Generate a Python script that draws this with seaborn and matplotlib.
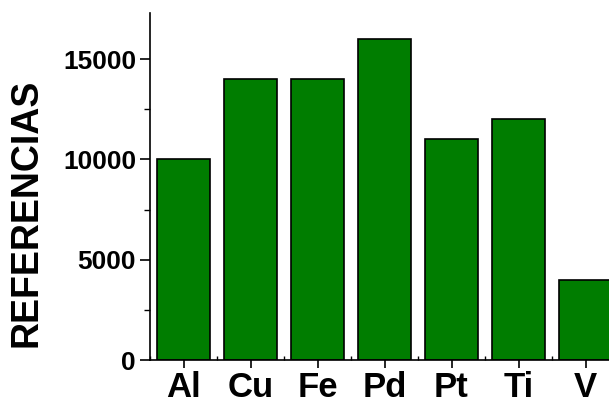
import matplotlib
matplotlib.use("Agg")
import matplotlib.pyplot as plt
import pandas as pd
import seaborn as sns
from matplotlib.ticker import MultipleLocator

elements = ["Al", "Cu", "Fe", "Pd", "Pt", "Ti", "V"]
referencias = [10000, 14000, 14000, 16000, 11000, 12000, 4000]

df = pd.DataFrame({"element": elements, "refs": referencias})

sns.set_theme(style="ticks")
plt.rcParams["font.family"] = ["Liberation Sans", "DejaVu Sans"]
plt.rcParams["font.weight"] = "bold"
plt.rcParams["text.color"] = "black"
plt.rcParams["axes.labelcolor"] = "black"
plt.rcParams["xtick.color"] = "black"
plt.rcParams["ytick.color"] = "black"

fig = plt.figure(figsize=(6.09, 4.01), dpi=100)
ax = fig.add_axes([150 / 609, 41 / 401, 469 / 609, 347 / 401])

sns.barplot(data=df, x="element", y="refs", color="#007D00", saturation=1,
            width=0.8, edgecolor="black", linewidth=1.2, ax=ax)

ax.set_xlim(-0.5, 6.5)
ax.set_ylim(0, 17300)
ax.yaxis.set_major_locator(MultipleLocator(5000))
ax.yaxis.set_minor_locator(MultipleLocator(2500))
ax.xaxis.set_minor_locator(MultipleLocator(1, offset=0.5))
ax.tick_params(axis="y", which="major", direction="out", length=7, width=1.2,
               labelsize=19, pad=3)
ax.tick_params(axis="y", which="minor", direction="out", length=4, width=1.0)
ax.tick_params(axis="x", which="major", direction="out", length=6, width=1.2,
               labelsize=25, pad=2)
ax.tick_params(axis="x", which="minor", direction="in", length=3, width=1.0)
for lbl in ax.get_xticklabels() + ax.get_yticklabels():
    lbl.set_fontweight("bold")

ax.set_xlabel("")
ax.set_ylabel("REFERENCIAS", fontsize=27, fontweight="bold")
ax.yaxis.set_label_coords(-0.224, 0.425)

for side in ["top", "right"]:
    ax.spines[side].set_visible(False)
for side in ["left", "bottom"]:
    ax.spines[side].set_linewidth(1.2)
    ax.spines[side].set_color("black")

fig.savefig("out.png", dpi=100)
